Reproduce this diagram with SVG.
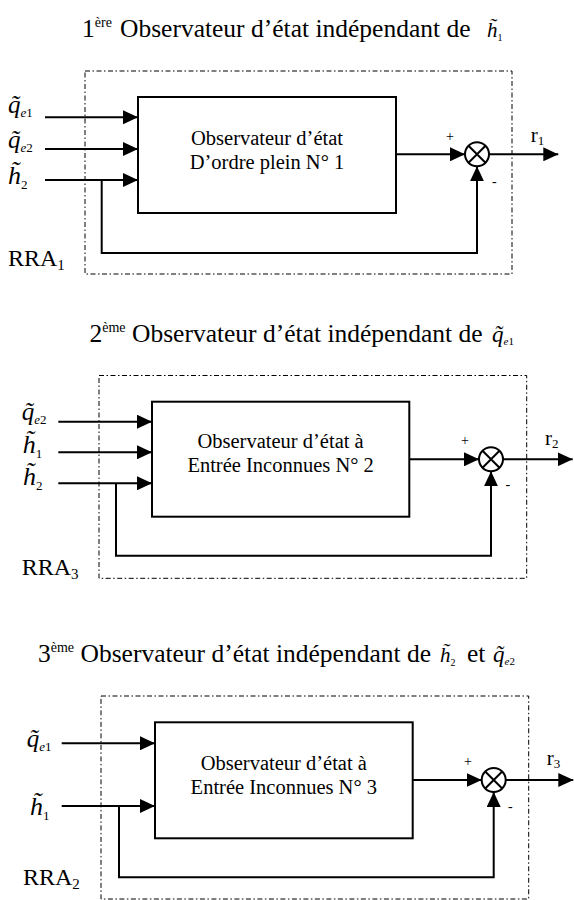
<svg xmlns="http://www.w3.org/2000/svg" width="574" height="900" viewBox="0 0 574 900">
<style>
text{font-family:"Liberation Serif","Times New Roman",serif;fill:#000}
.title{font-size:25.5px}
.sup{font-size:14px}
.box{fill:none;stroke:#000;stroke-width:2}
.dash{fill:none;stroke:#000;stroke-width:1;stroke-dasharray:5 2.5 1.5 2.5}
.wire{fill:none;stroke:#000;stroke-width:2}
.arr{fill:none;stroke:#000;stroke-width:2;marker-end:url(#ah)}
.sum{fill:#fff;stroke:#000;stroke-width:2}
.inner{font-size:20.5px;text-anchor:middle}
.var{font-size:25px;font-style:italic}
.sub{font-size:13px;font-style:normal}
.subi{font-size:13px;font-style:italic}
.rra{font-size:24px}
.rsub{font-size:15px}
.r{font-size:21px}
.sign{font-size:14px}
</style>
<defs>
<marker id="ah" markerUnits="userSpaceOnUse" markerWidth="15" markerHeight="14" refX="15" refY="7" orient="auto" viewBox="0 0 15 14">
<path d="M0,0 L15,7 L0,14 z" fill="#000"/>
</marker>
</defs>

<!-- Titles -->
<g id="title1">
<text class="title" x="82" y="37">1<tspan class="sup" dy="-10">ère</tspan></text>
<text class="title" x="120" y="37">Observateur d’état indépendant de</text>
<text class="var" x="487" y="37" style="font-size:21px">h̃<tspan class="sub" dy="4" style="font-size:10px">1</tspan></text>
</g>
<g id="title2">
<text class="title" x="89.5" y="341.5">2<tspan class="sup" dy="-10">ème</tspan></text>
<text class="title" x="132" y="341.5">Observateur d’état indépendant de</text>
<text class="var" x="492" y="341.5" style="font-size:23px">q̃<tspan class="subi" dy="3" style="font-size:11px">e</tspan><tspan class="sub" style="font-size:11px">1</tspan></text>
</g>
<g id="title3">
<text class="title" x="38" y="662">3<tspan class="sup" dy="-10">ème</tspan></text>
<text class="title" x="80.5" y="662">Observateur d’état indépendant de</text>
<text class="var" x="440" y="662" style="font-size:21px">h̃<tspan class="sub" dy="4" style="font-size:10px">2</tspan></text>
<text class="title" x="467" y="662">et</text>
<text class="var" x="493" y="662" style="font-size:23px">q̃<tspan class="subi" dy="3" style="font-size:11px">e</tspan><tspan class="sub" style="font-size:11px">2</tspan></text>
</g>

<!-- Frames (RRA groups) -->
<g id="rra1">
<rect class="dash" x="85" y="71" width="427" height="203"/>
<text class="rra" x="8" y="266">RRA<tspan class="rsub" dy="4">1</tspan></text>
</g>
<g id="rra3">
<rect class="dash" x="99" y="375.5" width="427.7" height="202.8"/>
<text class="rra" x="21.7" y="575">RRA<tspan class="rsub" dy="4">3</tspan></text>
</g>
<g id="rra2">
<rect class="dash" x="101" y="696" width="427.7" height="203"/>
<text class="rra" x="23" y="885">RRA<tspan class="rsub" dy="4">2</tspan></text>
</g>

<!-- Observer blocks -->
<g id="obs1">
<rect class="box" x="138" y="97" width="258" height="116"/>
<text class="inner" x="267" y="145">Observateur d’état</text>
<text class="inner" x="267" y="169">D’ordre plein N° 1</text>
</g>
<g id="obs2">
<rect class="box" x="152" y="401.7" width="257.3" height="115"/>
<text class="inner" x="280.6" y="448">Observateur d’état à</text>
<text class="inner" x="280.6" y="472">Entrée Inconnues N° 2</text>
</g>
<g id="obs3">
<rect class="box" x="155" y="722.3" width="257.7" height="116"/>
<text class="inner" x="283.8" y="770">Observateur d’état à</text>
<text class="inner" x="283.8" y="793.5">Entrée Inconnues N° 3</text>
</g>

<!-- Summing junctions -->
<g id="sum1">
<circle class="sum" cx="477" cy="154.3" r="12"/>
<path class="wire" d="M468.5,145.8 L485.5,162.8 M485.5,145.8 L468.5,162.8"/>
<text class="sign" x="446" y="141">+</text>
<text class="sign" x="492" y="186">-</text>
</g>
<g id="sum2">
<circle class="sum" cx="491" cy="459.3" r="12"/>
<path class="wire" d="M482.5,450.8 L499.5,467.8 M499.5,450.8 L482.5,467.8"/>
<text class="sign" x="461" y="445">+</text>
<text class="sign" x="505.5" y="489">-</text>
</g>
<g id="sum3">
<circle class="sum" cx="493.7" cy="780" r="12"/>
<path class="wire" d="M485.2,771.5 L502.2,788.5 M502.2,771.5 L485.2,788.5"/>
<text class="sign" x="464" y="766">+</text>
<text class="sign" x="508" y="811">-</text>
</g>

<!-- Input labels -->
<g id="in1">
<text class="var" x="8" y="113">q̃<tspan class="subi" dy="4">e</tspan><tspan class="sub">1</tspan></text>
<text class="var" x="8" y="148">q̃<tspan class="subi" dy="4">e</tspan><tspan class="sub">2</tspan></text>
<text class="var" x="8" y="184" style="font-size:26px">h̃<tspan class="sub" dy="5">2</tspan></text>
</g>
<g id="in2">
<text class="var" x="21.7" y="420">q̃<tspan class="subi" dy="4">e</tspan><tspan class="sub">2</tspan></text>
<text class="var" x="22.7" y="453" style="font-size:26px">h̃<tspan class="sub" dy="5">1</tspan></text>
<text class="var" x="23" y="485" style="font-size:26px">h̃<tspan class="sub" dy="5">2</tspan></text>
</g>
<g id="in3">
<text class="var" x="26.7" y="746.7">q̃<tspan class="subi" dy="4">e</tspan><tspan class="sub">1</tspan></text>
<text class="var" x="30" y="815" style="font-size:26px">h̃<tspan class="sub" dy="5">1</tspan></text>
</g>

<!-- Output labels -->
<g id="out1"><text class="r" x="530.7" y="142">r<tspan class="sub" dy="3">1</tspan></text></g>
<g id="out2"><text class="r" x="545" y="445">r<tspan class="sub" dy="3">2</tspan></text></g>
<g id="out3"><text class="r" x="546.7" y="765">r<tspan class="sub" dy="3">3</tspan></text></g>

<!-- Connectors -->
<g id="connectors">
<line class="arr" x1="45" y1="117.3" x2="138" y2="117.3"/>
<line class="arr" x1="45" y1="149" x2="138" y2="149"/>
<line class="arr" x1="45" y1="180" x2="138" y2="180"/>
<polyline class="arr" points="101.7,180 101.7,253 477,253 477,166.3"/>
<line class="arr" x1="396" y1="154.3" x2="465" y2="154.3"/>
<line class="arr" x1="489" y1="154.3" x2="558.3" y2="154.3"/>

<line class="arr" x1="58.3" y1="421.7" x2="152" y2="421.7"/>
<line class="arr" x1="58.3" y1="452.3" x2="152" y2="452.3"/>
<line class="arr" x1="58.3" y1="483.3" x2="152" y2="483.3"/>
<polyline class="arr" points="116,483.3 116,555.7 491,555.7 491,471.3"/>
<line class="arr" x1="409.3" y1="459.3" x2="479" y2="459.3"/>
<line class="arr" x1="503" y1="459.3" x2="572.7" y2="459.3"/>

<line class="arr" x1="61.7" y1="743.3" x2="155" y2="743.3"/>
<line class="arr" x1="61.7" y1="806" x2="155" y2="806"/>
<polyline class="arr" points="119,806 119,877.3 493.7,877.3 493.7,792"/>
<line class="arr" x1="412.7" y1="780" x2="481.7" y2="780"/>
<line class="arr" x1="505.7" y1="780" x2="573.3" y2="780"/>
</g>
</svg>
